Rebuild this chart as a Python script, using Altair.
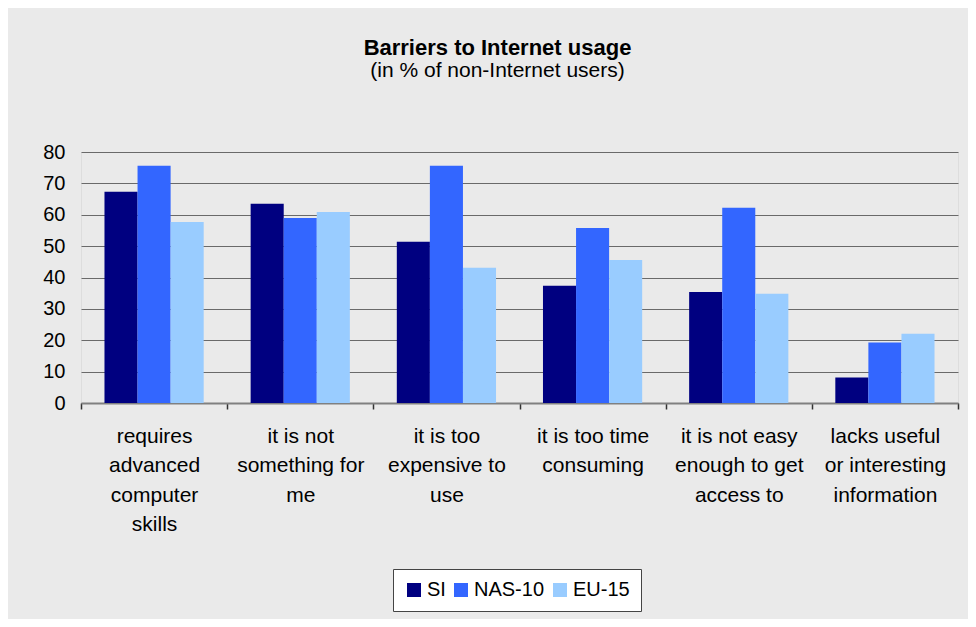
import altair as alt
import pandas as pd

categories = [
    "requires\nadvanced\ncomputer\nskills",
    "it is not\nsomething for\nme",
    "it is too\nexpensive to\nuse",
    "it is too time\nconsuming",
    "it is not easy\nenough to get\naccess to",
    "lacks useful\nor interesting\ninformation",
]
series = ["SI", "NAS-10", "EU-15"]
si_values = [67.3, 63.5, 51.4, 37.4, 35.4, 8.1]
nas_values = [75.6, 59.0, 75.6, 55.8, 62.2, 19.3]
eu_values = [57.7, 60.9, 43.1, 45.6, 34.8, 22.1]
colors = ["#000080", "#3366FF", "#99CCFF"]
y_ticks = [0, 10, 20, 30, 40, 50, 60, 70, 80]

rows = []
for i, c in enumerate(categories):
    for s, vals in zip(series, [si_values, nas_values, eu_values]):
        rows.append({"category": c, "series": s, "value": vals[i]})
df = pd.DataFrame(rows)

FONT = "Liberation Sans"

chart = alt.Chart(df).mark_bar().encode(
    x=alt.X(
        "category:N",
        sort=categories,
        scale=alt.Scale(paddingInner=0, paddingOuter=0),
        axis=alt.Axis(
            title=None,
            labelAngle=0,
            labelExpr="split(datum.label, '\\n')",
            labelFontSize=21,
            labelLineHeight=29.5,
            labelColor="#000000",
            labelFont=FONT,
            labelBaseline="top",
            labelLimit=300,
            labelPadding=16,
            tickBand="extent",
            tickSize=6,
            tickColor="#333333",
            tickWidth=1.5,
            domainColor="#808080",
            domainWidth=2,
            grid=False,
        ),
    ),
    xOffset=alt.XOffset(
        "series:N", sort=series, scale=alt.Scale(paddingInner=0, paddingOuter=0.71)
    ),
    y=alt.Y(
        "value:Q",
        scale=alt.Scale(domain=[0, 80]),
        axis=alt.Axis(
            values=y_ticks,
            title=None,
            ticks=False,
            domain=False,
            gridColor="#6a6a6a",
            gridWidth=1,
            labelFontSize=20,
            labelFont=FONT,
            labelPadding=16,
            labelColor="#000000",
        ),
    ),
    color=alt.Color(
        "series:N",
        sort=series,
        scale=alt.Scale(domain=series, range=colors),
        legend=alt.Legend(
            title=None,
            orient="none",
            legendX=312,
            legendY=417,
            direction="horizontal",
            fillColor="white",
            strokeColor="#444444",
            padding=11,
            symbolType="square",
            symbolSize=196,
            symbolStrokeWidth=0,
            labelFontSize=20,
            labelFont=FONT,
            labelColor="#000000",
            columnPadding=5,
            labelOffset=3,
        ),
    ),
).properties(
    width=877,
    height=251,
    background="#EAEAEA",
    padding={"left": 73, "top": 144, "right": 10, "bottom": 216},
    autosize=alt.AutoSizeParams(type="none"),
    title=alt.TitleParams(
        text="Barriers to Internet usage",
        subtitle="(in % of non-Internet users)",
        anchor="middle",
        frame="group",
        font=FONT,
        fontSize=22,
        fontWeight="bold",
        color="#000000",
        subtitleFont=FONT,
        subtitleFontSize=21,
        subtitleColor="#000000",
        subtitlePadding=0,
        offset=60,
        dx=-22,
    ),
).configure_view(strokeWidth=0).configure(font=FONT)

chart.save("out.html", embed_options={"renderer": "svg", "actions": False})
